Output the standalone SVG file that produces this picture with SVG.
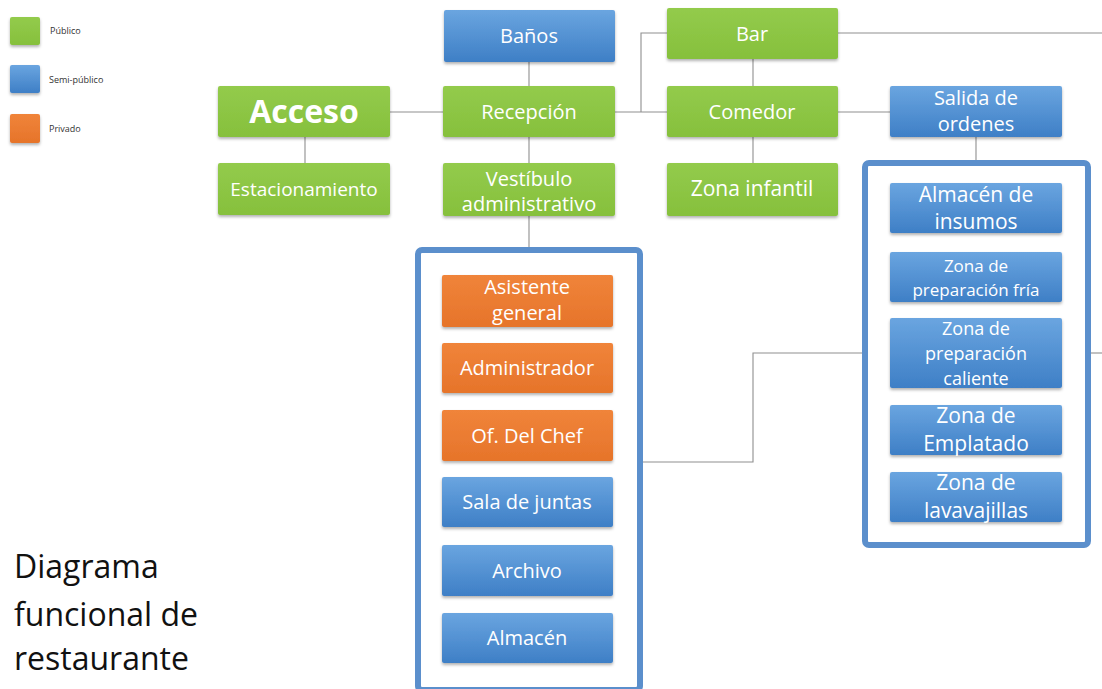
<svg xmlns="http://www.w3.org/2000/svg" width="1102" height="689" viewBox="0 0 1102 689">
<defs>
<linearGradient id="gGreen" x1="0" y1="0" x2="0" y2="1"><stop offset="0" stop-color="#93cb4c"/><stop offset="1" stop-color="#86c03c"/></linearGradient>
<linearGradient id="gBlue" x1="0" y1="0" x2="0" y2="1"><stop offset="0" stop-color="#6aa5e0"/><stop offset="1" stop-color="#3e7fc6"/></linearGradient>
<linearGradient id="gOrange" x1="0" y1="0" x2="0" y2="1"><stop offset="0" stop-color="#f0843a"/><stop offset="1" stop-color="#e6742a"/></linearGradient>
<filter id="sh" x="-10%" y="-10%" width="120%" height="130%"><feDropShadow dx="0" dy="2" stdDeviation="1.5" flood-color="#000" flood-opacity="0.3"/></filter>
</defs>
<style>
.g{fill:url(#gGreen);filter:url(#sh)}
.b{fill:url(#gBlue);filter:url(#sh)}
.o{fill:url(#gOrange);filter:url(#sh)}
.t{font-family:"Open Sans","Noto Sans",sans-serif;font-size:20px;fill:#fff;text-anchor:middle}
.big{font-family:"Open Sans","Noto Sans",sans-serif;font-size:32px;font-weight:bold;fill:#fff;text-anchor:middle}
.lg{font-family:"Open Sans","Noto Sans",sans-serif;font-size:9px;fill:#333}
.ttl{font-family:"Open Sans","Noto Sans",sans-serif;font-size:32px;fill:#111}
.c{fill:none;stroke:#8f8f8f;stroke-width:1.1}
.cont{fill:#fff;stroke:#5b8fcc;stroke-width:6}
</style>
<rect width="1102" height="689" fill="#fff"/>
<g id="legend">
<rect x="10" y="17" width="30" height="28" rx="2" class="g"/>
<text x="50" y="34" class="lg">Público</text>
<rect x="10" y="65" width="30" height="28" rx="2" class="b"/>
<text x="49" y="83" class="lg">Semi-público</text>
<rect x="10" y="114" width="30" height="29" rx="2" class="o"/>
<text x="49" y="132" class="lg">Privado</text>
</g>
<g id="title">
<text class="ttl"><tspan x="14" y="578">Diagrama</tspan><tspan x="14" y="626">funcional de</tspan><tspan x="14" y="670">restaurante</tspan></text>
</g>
<g id="containers">
<rect id="admin-area" x="418" y="250" width="222" height="440" rx="4" class="cont"/>
<rect id="kitchen-area" x="865" y="163" width="223" height="382" rx="4" class="cont"/>
</g>
<g id="connectors">
<path class="c" d="M529 62V87"/>
<path class="c" d="M390 112H443"/>
<path class="c" d="M305 137V163"/>
<path class="c" d="M529 137V163"/>
<path class="c" d="M529 216V247"/>
<path class="c" d="M615 112H667M641 112V33H667"/>
<path class="c" d="M838 33H1102"/>
<path class="c" d="M753 59V86"/>
<path class="c" d="M753 137V163"/>
<path class="c" d="M838 112H890"/>
<path class="c" d="M976 137V160"/>
<path class="c" d="M643 462H753V353H862"/>
<path class="c" d="M1091 353H1102"/>
</g>
<g id="acceso"><rect x="218" y="86" width="172" height="51" rx="2" class="g"/><text x="304" y="123" class="big">Acceso</text></g>
<g id="estacionamiento"><rect x="218" y="163" width="172" height="52" rx="2" class="g"/><text x="304" y="196" class="t" style="font-size:19px">Estacionamiento</text></g>
<g id="banos"><rect x="444" y="10" width="171" height="52" rx="2" class="b"/><text x="529" y="43" class="t">Baños</text></g>
<g id="recepcion"><rect x="443" y="86" width="172" height="51" rx="2" class="g"/><text x="529" y="119" class="t">Recepción</text></g>
<g id="vestibulo"><rect x="443" y="163" width="172" height="53" rx="2" class="g"/><text class="t"><tspan x="529" y="186">Vestíbulo</tspan><tspan x="529" y="211">administrativo</tspan></text></g>
<g id="bar"><rect x="667" y="8" width="171" height="51" rx="2" class="g"/><text x="752" y="41" class="t">Bar</text></g>
<g id="comedor"><rect x="667" y="86" width="171" height="51" rx="2" class="g"/><text x="752" y="119" class="t">Comedor</text></g>
<g id="zona-infantil"><rect x="667" y="163" width="171" height="53" rx="2" class="g"/><text x="752" y="196" class="t" style="font-size:21px">Zona infantil</text></g>
<g id="salida"><rect x="890" y="86" width="172" height="51" rx="2" class="b"/><text class="t"><tspan x="976" y="105">Salida de</tspan><tspan x="976" y="131">ordenes</tspan></text></g>
<g id="asistente"><rect x="442" y="275" width="171" height="52" rx="2" class="o"/><text class="t"><tspan x="527" y="294">Asistente</tspan><tspan x="527" y="320">general</tspan></text></g>
<g id="administrador"><rect x="442" y="343" width="171" height="50" rx="2" class="o"/><text x="527" y="375" class="t">Administrador</text></g>
<g id="chef"><rect x="442" y="410" width="171" height="51" rx="2" class="o"/><text x="527" y="443" class="t">Of. Del Chef</text></g>
<g id="juntas"><rect x="442" y="477" width="171" height="50" rx="2" class="b"/><text x="527" y="509" class="t">Sala de juntas</text></g>
<g id="archivo"><rect x="442" y="545" width="171" height="51" rx="2" class="b"/><text x="527" y="578" class="t">Archivo</text></g>
<g id="almacen"><rect x="442" y="613" width="171" height="50" rx="2" class="b"/><text x="527" y="645" class="t">Almacén</text></g>
<g id="insumos"><rect x="890" y="183" width="172" height="50" rx="2" class="b"/><text class="t" style="font-size:21px"><tspan x="976" y="202">Almacén de</tspan><tspan x="976" y="229">insumos</tspan></text></g>
<g id="fria"><rect x="890" y="252" width="172" height="50" rx="2" class="b"/><text class="t" style="font-size:17px"><tspan x="976" y="272">Zona de</tspan><tspan x="976" y="296">preparación fría</tspan></text></g>
<g id="caliente"><rect x="890" y="318" width="172" height="70" rx="2" class="b"/><text class="t" style="font-size:18px"><tspan x="976" y="335">Zona de</tspan><tspan x="976" y="360">preparación</tspan><tspan x="976" y="385">caliente</tspan></text></g>
<g id="emplatado"><rect x="890" y="405" width="172" height="50" rx="2" class="b"/><text class="t" style="font-size:21px"><tspan x="976" y="423">Zona de</tspan><tspan x="976" y="451">Emplatado</tspan></text></g>
<g id="lavavajillas"><rect x="890" y="472" width="172" height="50" rx="2" class="b"/><text class="t" style="font-size:21px"><tspan x="976" y="490">Zona de</tspan><tspan x="976" y="518">lavavajillas</tspan></text></g>
</svg>
